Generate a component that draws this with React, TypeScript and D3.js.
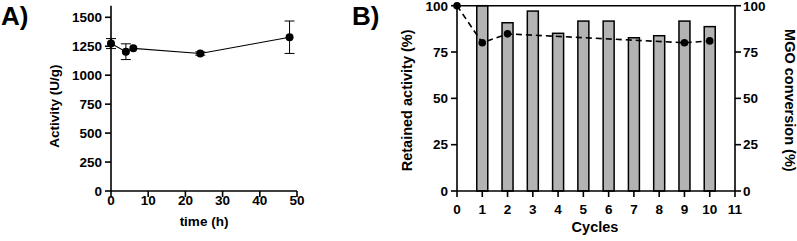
import * as d3 from "d3";

// Panel A: activity over time
const timeH = [0, 4, 6, 24, 48];
const activity = [1273, 1203, 1232, 1187, 1328];
const activityErr = [43, 68, 0, 14, 140];
const activityTicks = [0, 250, 500, 750, 1000, 1250, 1500];
const timeTicks = [0, 10, 20, 30, 40, 50];

// Panel B: reuse cycles
const cycles = [1, 2, 3, 4, 5, 6, 7, 8, 9, 10];
const retained = [100, 90.8, 97.1, 85.1, 91.7, 91.7, 82.7, 83.8, 91.7, 88.7];
const mgoCycles = [0, 1, 2, 9, 10];
const mgoConversion = [100, 80, 84.8, 80, 81];
const pctTicks = [0, 25, 50, 75, 100];
const cycleTicks = [0, 1, 2, 3, 4, 5, 6, 7, 8, 9, 10, 11];

const FONT = "'Liberation Sans', Arial, sans-serif";
const INK = "#000";
const TICK_FS = 13.5;

function PanelA() {
  const x = d3.scaleLinear().domain([0, 50]).range([111, 297]);
  const y = d3.scaleLinear().domain([0, 1500]).range([191, 17.3]);
  const line = d3.line<number>().x((_d, i) => x(timeH[i])).y((d) => y(d));
  return (
    <g fontFamily={FONT} fontWeight="bold">
      <text x={1} y={25} fontSize={26}>A)</text>
      {/* axes */}
      <line x1={x(0)} x2={x(0)} y1={y(1600)} y2={y(0)} stroke={INK} strokeWidth={1.6} />
      <line x1={x(0)} x2={x(50)} y1={y(0)} y2={y(0)} stroke={INK} strokeWidth={1.6} />
      {activityTicks.map((t) => (
        <g key={t}>
          <line x1={x(0) - 6} x2={x(0)} y1={y(t)} y2={y(t)} stroke={INK} strokeWidth={1.6} />
          <text x={x(0) - 9} y={y(t) + 4.8} fontSize={TICK_FS} textAnchor="end">{t}</text>
        </g>
      ))}
      {timeTicks.map((t) => (
        <g key={t}>
          <line x1={x(t)} x2={x(t)} y1={y(0)} y2={y(0) + 6} stroke={INK} strokeWidth={1.6} />
          <text x={x(t)} y={205} fontSize={TICK_FS} textAnchor="middle">{t}</text>
        </g>
      ))}
      <text transform={`translate(59,${y(750) + 2}) rotate(-90)`} fontSize={13.5} textAnchor="middle">Activity (U/g)</text>
      <text x={204} y={226} fontSize={13.5} textAnchor="middle">time (h)</text>
      {/* data */}
      <path d={line(activity) ?? ""} fill="none" stroke={INK} strokeWidth={1.1} />
      {activity.map((v, i) => {
        const e = activityErr[i];
        if (!e) return null;
        const cx = x(timeH[i]);
        return (
          <g key={i} stroke={INK} strokeWidth={1}>
            <line x1={cx} x2={cx} y1={y(v + e)} y2={y(v - e)} />
            <line x1={cx - 5} x2={cx + 5} y1={y(v + e)} y2={y(v + e)} />
            <line x1={cx - 5} x2={cx + 5} y1={y(v - e)} y2={y(v - e)} />
          </g>
        );
      })}
      {activity.map((v, i) => (
        <circle key={i} cx={x(timeH[i])} cy={y(v)} r={4} fill={INK} />
      ))}
    </g>
  );
}

function PanelB() {
  const x = d3.scaleLinear().domain([0, 11]).range([457, 735]);
  const y = d3.scaleLinear().domain([0, 100]).range([191, 5.7]);
  const barW = 11;
  const line = d3.line<number>().x((_d, i) => x(mgoCycles[i])).y((d) => y(d));
  return (
    <g fontFamily={FONT} fontWeight="bold">
      <text x={352} y={25} fontSize={26}>B)</text>
      {/* bars */}
      {retained.map((v, i) => (
        <rect key={i} x={x(cycles[i]) - barW / 2} y={y(v)} width={barW} height={y(0) - y(v)}
          fill="#b3b3b3" stroke={INK} strokeWidth={1.5} />
      ))}
      {/* frame */}
      <line x1={x(0)} x2={x(0)} y1={y(100)} y2={y(0)} stroke={INK} strokeWidth={1.6} />
      <line x1={x(11)} x2={x(11)} y1={y(100)} y2={y(0)} stroke={INK} strokeWidth={1.6} />
      <line x1={x(0)} x2={x(11)} y1={y(0)} y2={y(0)} stroke={INK} strokeWidth={1.6} />
      <line x1={x(0)} x2={x(11)} y1={y(100)} y2={y(100)} stroke={INK} strokeWidth={1.6} />
      {pctTicks.map((t) => (
        <g key={t}>
          <line x1={x(0) - 6} x2={x(0)} y1={y(t)} y2={y(t)} stroke={INK} strokeWidth={1.6} />
          <text x={x(0) - 9} y={y(t) + 4.8} fontSize={TICK_FS} textAnchor="end">{t}</text>
          <line x1={x(11)} x2={x(11) + 6} y1={y(t)} y2={y(t)} stroke={INK} strokeWidth={1.6} />
          <text x={x(11) + 8} y={y(t) + 4.8} fontSize={TICK_FS} textAnchor="start">{t}</text>
        </g>
      ))}
      {cycleTicks.map((t) => (
        <g key={t}>
          <line x1={x(t)} x2={x(t)} y1={y(0)} y2={y(0) + 6} stroke={INK} strokeWidth={1.6} />
          <text x={x(t)} y={214} fontSize={TICK_FS} textAnchor="middle">{t}</text>
        </g>
      ))}
      <text transform={`translate(412,${y(50) + 2}) rotate(-90)`} fontSize={14.5} textAnchor="middle">Retained activity (%)</text>
      <text transform={`translate(785,${y(50) + 2}) rotate(90)`} fontSize={14.5} textAnchor="middle">MGO conversion (%)</text>
      <text x={595} y={232} fontSize={14.5} textAnchor="middle">Cycles</text>
      {/* MGO conversion line */}
      <path d={line(mgoConversion) ?? ""} fill="none" stroke={INK} strokeWidth={1.6} strokeDasharray="6,4" />
      {mgoConversion.map((v, i) => (
        <circle key={i} cx={x(mgoCycles[i])} cy={y(v)} r={3.8} fill={INK} />
      ))}
    </g>
  );
}

export default function App() {
  return (
    <svg width={797} height={241} style={{ position: "absolute", left: 0, top: 0, background: "#fff" }}>
      <rect width={797} height={241} fill="#fff" />
      <PanelA />
      <PanelB />
    </svg>
  );
}
